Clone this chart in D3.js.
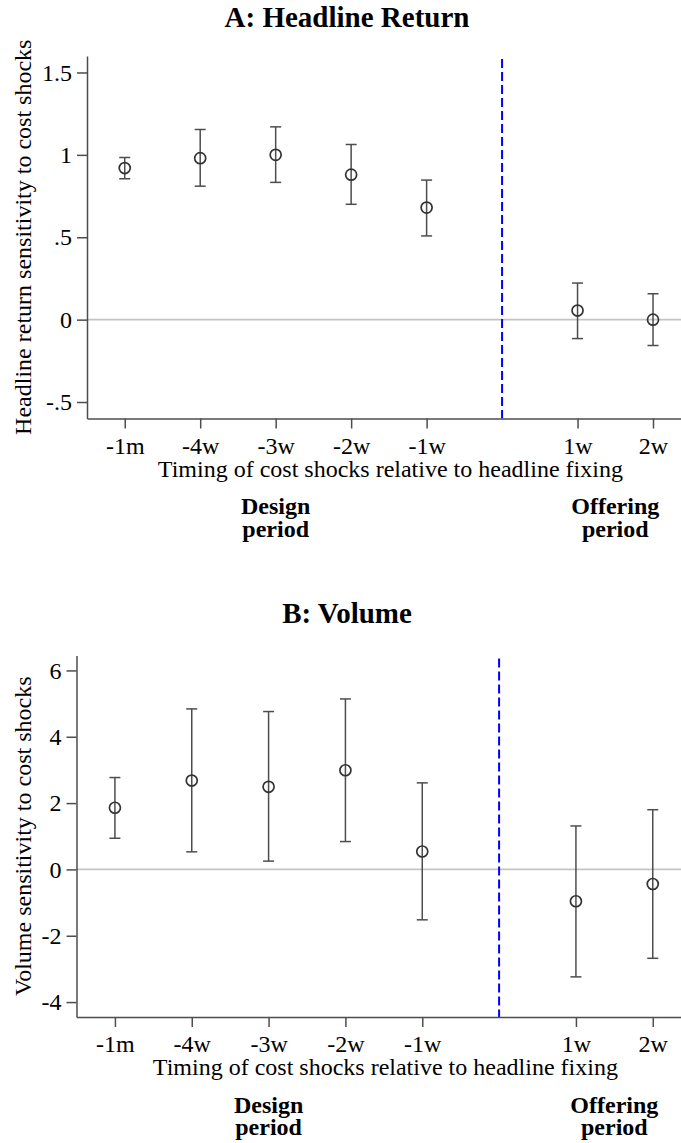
<!DOCTYPE html>
<html>
<head>
<meta charset="utf-8">
<script src="https://cdn.jsdelivr.net/npm/d3@7"></script>
<style>
  body { margin: 0; background: #fff; }
  svg { display: block; }
  text { font-family: "Liberation Serif", "Times New Roman", serif; fill: #000; }
</style>
</head>
<body>
<svg></svg>
<script>
// timing of the cost shocks (index on the x axis) and their labels
var timingPos = [1, 2, 3, 4, 5, 7, 8];
var timingLabels = ["-1m", "-4w", "-3w", "-2w", "-1w", "1w", "2w"];
var fixingPos = 6;

// panel A: headline return sensitivity, point estimate and CI
var headlineCoef = [0.92, 0.98, 1.00, 0.88, 0.68, 0.055, 0.00];
var headlineLo   = [0.855, 0.81, 0.833, 0.70, 0.508, -0.115, -0.157];
var headlineHi   = [0.984, 1.154, 1.17, 1.063, 0.847, 0.222, 0.157];
var headlineTicks = [-0.5, 0, 0.5, 1, 1.5];
var headlineTickLabels = ["-.5", "0", ".5", "1", "1.5"];

// panel B: volume sensitivity, point estimate and CI
var volumeCoef = [1.86, 2.68, 2.49, 2.99, 0.54, -0.96, -0.44];
var volumeLo   = [0.94, 0.53, 0.25, 0.84, -1.52, -3.24, -2.68];
var volumeHi   = [2.77, 4.84, 4.76, 5.14, 2.61, 1.31, 1.80];
var volumeTicks = [-4, -2, 0, 2, 4, 6];
var volumeTickLabels = ["-4", "-2", "0", "2", "4", "6"];

var svg = d3.select("svg")
            .attr("width", 681)
            .attr("height", 1143);

function drawPanel(p) {
    var g = svg.append("g");

    //define scales
    var x = d3.scaleLinear().domain([0.5, 8.4]).range([p.left, p.right]),
        y = d3.scaleLinear().domain(p.yDomain).range([p.bottom, p.top]);

    var rows = timingPos.map(function(t, i) {
        return {pos: t, label: timingLabels[i], coef: p.coef[i], lo: p.lo[i], hi: p.hi[i]};
    });

    //title
    g.append("text")
        .attr("x", 347)
        .attr("y", p.titleY)
        .attr("text-anchor", "middle")
        .style("font-size", "29px")
        .style("font-weight", "bold")
        .text(p.title);

    //zero line
    g.append("line")
        .attr("x1", x(0.5)).attr("x2", 681)
        .attr("y1", y(0)).attr("y2", y(0))
        .style("stroke", "#c4c4c4")
        .style("stroke-width", 1.6);

    //headline fixing line
    g.append("line")
        .attr("x1", x(fixingPos)).attr("x2", x(fixingPos))
        .attr("y1", p.top + 3).attr("y2", p.bottom)
        .style("stroke", "#0000ff")
        .style("stroke-width", 2)
        .style("stroke-dasharray", "9,4");

    //y axis
    var yAxis = g.append("g")
        .attr("transform", "translate(" + p.left + ",0)")
        .call(d3.axisLeft(y)
            .tickValues(p.ticks)
            .tickFormat(function(d, i) { return p.tickLabels[i]; })
            .tickSize(10)
            .tickSizeOuter(0)
            .tickPadding(5));

    //x axis
    var xAxis = g.append("g")
        .attr("transform", "translate(0," + p.bottom + ")")
        .call(d3.axisBottom(x)
            .tickValues(timingPos)
            .tickFormat(function(d, i) { return timingLabels[i]; })
            .tickSize(10)
            .tickSizeOuter(0)
            .tickPadding(8));

    [yAxis, xAxis].forEach(function(ax) {
        ax.attr("font-family", null).attr("font-size", null);
        ax.selectAll("text").style("font-size", "24px").attr("fill", "#000");
        ax.selectAll("line").attr("stroke", "#4d4d4d").style("stroke-width", 1.5);
        ax.select(".domain").attr("stroke", "#4d4d4d").style("stroke-width", 1.5);
    });

    //axis titles
    g.append("text")
        .attr("transform", "translate(31," + ((p.top + p.bottom) / 2) + ") rotate(-90)")
        .attr("text-anchor", "middle")
        .style("font-size", "24px")
        .text(p.yTitle);

    g.append("text")
        .attr("x", x(4.52))
        .attr("y", p.bottom + 58)
        .attr("text-anchor", "middle")
        .style("font-size", "24px")
        .text("Timing of cost shocks relative to headline fixing");

    //period labels, two lines each
    [{pos: 3, lines: ["Design", "period"]}, {pos: 7.5, lines: ["Offering", "period"]}].forEach(function(l) {
        var t = g.append("text")
            .attr("y", p.bottom + 95.5)
            .attr("text-anchor", "middle")
            .style("font-size", "24px")
            .style("font-weight", "bold");
        t.selectAll("tspan")
            .data(l.lines)
            .enter()
            .append("tspan")
            .attr("x", x(l.pos))
            .attr("dy", function(d, k) { return k === 0 ? 0 : 22.5; })
            .text(function(d) { return d; });
    });

    //error bars
    var bars = g.selectAll(".ci")
        .data(rows)
        .enter()
        .append("g")
        .attr("class", "ci")
        .style("stroke", "#4d4d4d")
        .style("stroke-width", 1.5);

    bars.append("line")
        .attr("x1", function(d) { return x(d.pos); })
        .attr("x2", function(d) { return x(d.pos); })
        .attr("y1", function(d) { return y(d.lo); })
        .attr("y2", function(d) { return y(d.hi); });

    bars.append("line")
        .attr("x1", function(d) { return x(d.pos) - 5.5; })
        .attr("x2", function(d) { return x(d.pos) + 5.5; })
        .attr("y1", function(d) { return y(d.hi); })
        .attr("y2", function(d) { return y(d.hi); });

    bars.append("line")
        .attr("x1", function(d) { return x(d.pos) - 5.5; })
        .attr("x2", function(d) { return x(d.pos) + 5.5; })
        .attr("y1", function(d) { return y(d.lo); })
        .attr("y2", function(d) { return y(d.lo); });

    //point estimates
    g.selectAll(".pt")
        .data(rows)
        .enter()
        .append("circle")
        .attr("class", "pt")
        .attr("cx", function(d) { return x(d.pos); })
        .attr("cy", function(d) { return y(d.coef); })
        .attr("r", 5.5)
        .style("fill", "none")
        .style("stroke", "#333")
        .style("stroke-width", 1.7);
}

drawPanel({
    title: "A: Headline Return",
    titleY: 27,
    yTitle: "Headline return sensitivity to cost shocks",
    coef: headlineCoef, lo: headlineLo, hi: headlineHi,
    ticks: headlineTicks, tickLabels: headlineTickLabels,
    yDomain: [-0.6, 1.6],
    left: 87, right: 683.2, top: 56, bottom: 418.5
});

drawPanel({
    title: "B: Volume",
    titleY: 623,
    yTitle: "Volume sensitivity to cost shocks",
    coef: volumeCoef, lo: volumeLo, hi: volumeHi,
    ticks: volumeTicks, tickLabels: volumeTickLabels,
    yDomain: [-4.45, 6.45],
    left: 76.5, right: 683.5, top: 655.5, bottom: 1017
});
</script>
</body>
</html>
